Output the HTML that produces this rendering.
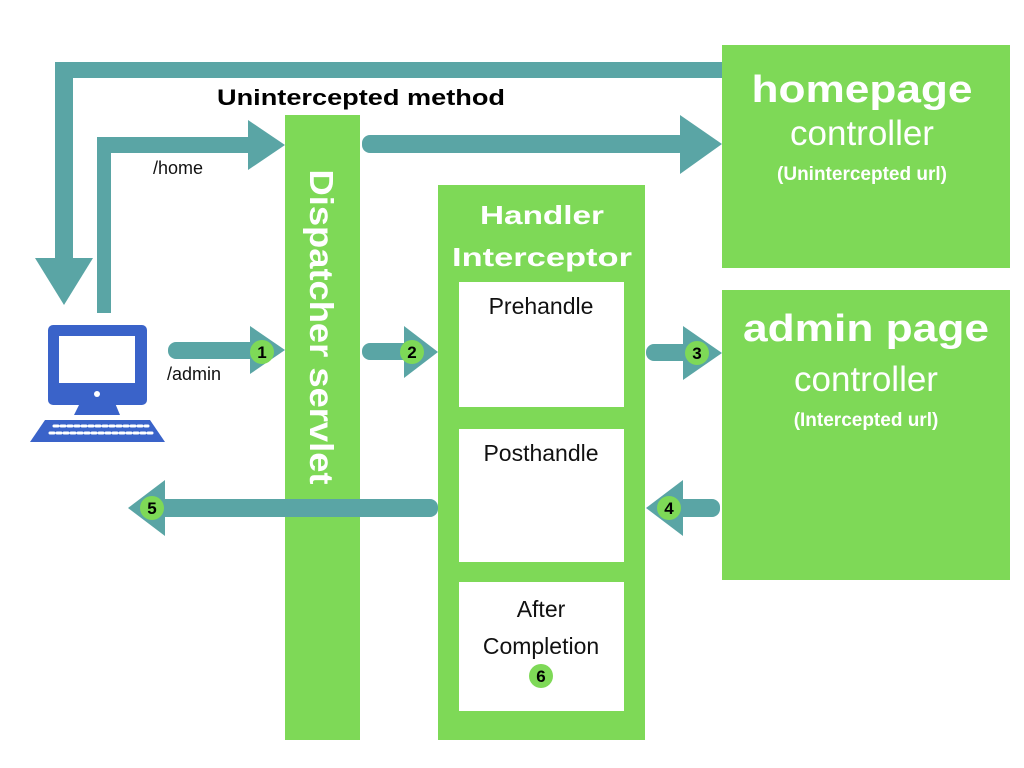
<!DOCTYPE html>
<html><head><meta charset="utf-8"><style>html,body{margin:0;padding:0;background:#fff}svg{display:block}text{font-family:"Liberation Sans",sans-serif}</style></head><body>
<svg width="1024" height="768" viewBox="0 0 1024 768" xmlns="http://www.w3.org/2000/svg">
<rect width="1024" height="768" fill="#fff"/>
<g fill="#5aa5a5" stroke="none">
<rect x="55" y="62" width="667" height="16"/>
<rect x="55" y="62" width="18" height="200"/>
<polygon points="35,258 93,258 64,305"/>
<rect x="97" y="137" width="14" height="176"/>
<rect x="97" y="137" width="160" height="16"/>
<polygon points="248,120 285,145 248,170"/>
<rect x="362" y="135" width="325" height="18" rx="8"/>
<polygon points="680,115 722,144 680,174"/>
<rect x="168" y="342" width="90" height="17" rx="8"/>
<polygon points="250,326 285,350 250,374"/>
<rect x="362" y="343" width="50" height="17" rx="8"/>
<polygon points="404,326 438,352 404,378"/>
<rect x="646" y="344" width="50" height="17" rx="8"/>
<polygon points="683,326 722,353 683,380"/>
<rect x="668" y="499" width="52" height="18" rx="8"/>
<polygon points="683,480 646,508 683,536"/>
</g>
<rect x="285" y="115" width="75" height="625" fill="#7ed957"/>
<text transform="translate(310,327) rotate(90)" text-anchor="middle" font-size="33" font-weight="bold" fill="#fff" textLength="315" lengthAdjust="spacingAndGlyphs">Dispatcher servlet</text>
<g fill="#5aa5a5">
<rect x="150" y="499" width="288" height="18" rx="8"/>
<polygon points="165,480 128,508 165,536"/>
</g>
<rect x="438" y="185" width="207" height="555" fill="#7ed957"/>
<text x="542" y="224" text-anchor="middle" font-size="26" font-weight="bold" fill="#fff" textLength="124" lengthAdjust="spacingAndGlyphs">Handler</text>
<text x="542" y="266" text-anchor="middle" font-size="26" font-weight="bold" fill="#fff" textLength="180" lengthAdjust="spacingAndGlyphs">Interceptor</text>
<rect x="459" y="282" width="165" height="125" fill="#fff"/>
<rect x="459" y="429" width="165" height="133" fill="#fff"/>
<rect x="459" y="582" width="165" height="129" fill="#fff"/>
<text x="541" y="314" text-anchor="middle" font-size="23" fill="#111">Prehandle</text>
<text x="541" y="461" text-anchor="middle" font-size="23" fill="#111">Posthandle</text>
<text x="541" y="617" text-anchor="middle" font-size="23" fill="#111">After</text>
<text x="541" y="654" text-anchor="middle" font-size="23" fill="#111">Completion</text>
<rect x="722" y="45" width="288" height="223" fill="#7ed957"/>
<rect x="722" y="290" width="288" height="290" fill="#7ed957"/>
<text x="862" y="102" text-anchor="middle" font-size="38" font-weight="bold" fill="#fff" textLength="221" lengthAdjust="spacingAndGlyphs">homepage</text>
<text x="862" y="145" text-anchor="middle" font-size="35" fill="#fff">controller</text>
<text x="862" y="180" text-anchor="middle" font-size="19" font-weight="bold" fill="#fff">(Unintercepted url)</text>
<text x="866" y="341" text-anchor="middle" font-size="38" font-weight="bold" fill="#fff" textLength="246" lengthAdjust="spacingAndGlyphs">admin page</text>
<text x="866" y="391" text-anchor="middle" font-size="35" fill="#fff">controller</text>
<text x="866" y="426" text-anchor="middle" font-size="19" font-weight="bold" fill="#fff">(Intercepted url)</text>
<text x="217" y="105" font-size="22" font-weight="bold" fill="#000" textLength="288" lengthAdjust="spacingAndGlyphs">Unintercepted method</text>
<text x="153" y="174" font-size="18" fill="#111">/home</text>
<text x="167" y="380" font-size="18" fill="#111">/admin</text>
<g fill="#7ed957">
<circle cx="262" cy="352" r="12"/><circle cx="412" cy="352" r="12"/><circle cx="697" cy="353" r="12"/><circle cx="669" cy="508" r="12"/><circle cx="152" cy="508" r="12"/><circle cx="541" cy="676" r="12"/>
</g>
<g font-size="17" font-weight="bold" fill="#000" text-anchor="middle">
<text x="262" y="358">1</text><text x="412" y="358">2</text><text x="697" y="359">3</text><text x="669" y="514">4</text><text x="152" y="514">5</text><text x="541" y="682">6</text>
</g>
<g fill="#3a63c9">
<rect x="48" y="325" width="99" height="80" rx="5"/>
<polygon points="80,403 115,403 120,415 74,415"/>
<polygon points="45,420 150,420 165,442 30,442"/>
</g>
<rect x="59" y="336" width="76" height="47" fill="#fff"/>
<circle cx="97" cy="394" r="3" fill="#fff"/>
<g stroke="#fff" stroke-width="3" stroke-linecap="round" stroke-dasharray="4 3">
<line x1="54" y1="426" x2="148" y2="426"/>
<line x1="50" y1="433" x2="152" y2="433"/>
</g>
</svg>
</body></html>
